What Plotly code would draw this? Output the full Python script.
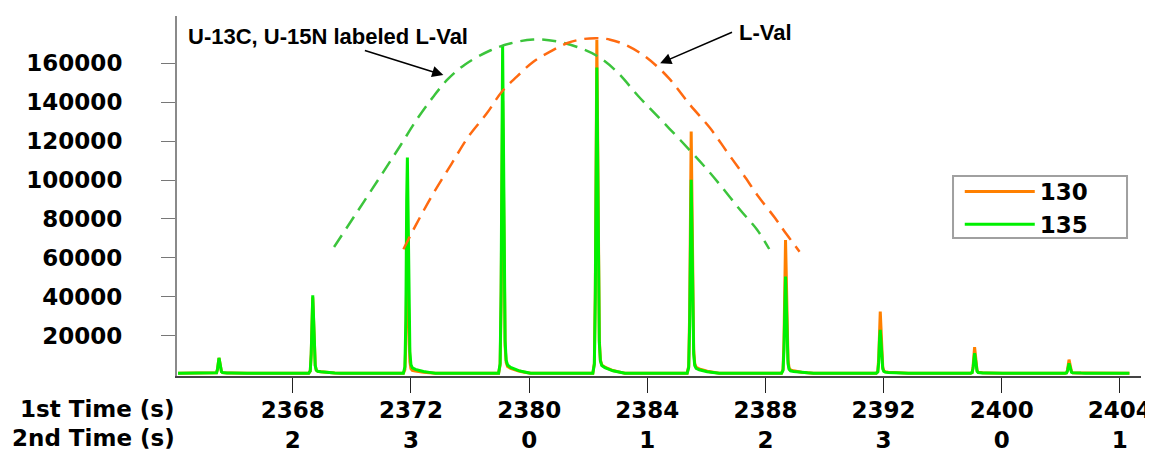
import plotly.graph_objects as go

# ---------------- data ----------------
tick_pos = [1, 2, 3, 4, 5, 6, 7, 8]
first_time_labels = ["2368", "2372", "2380", "2384", "2388", "2392", "2400", "2404"]
second_time_labels = ["2", "3", "0", "1", "2", "3", "0", "1"]
y_ticks = [20000, 40000, 60000, 80000, 100000, 120000, 140000, 160000]

# apex positions of the modulated peaks (raw time axis, s) and apex heights
peak_t = [0.375, 1.1685, 1.9695, 2.7756, 3.5732, 4.3717, 5.1702, 5.9720, 6.7705, 7.5699]
mz130_height = [7800, 39000, 60000, 140000, 171300, 124300, 68500, 31700, 13400, 7000]
mz135_height = [7900, 40100, 110900, 168500, 157200, 99400, 49700, 22300, 10300, 5100]
baseline = 700
trace_start = 0.028
trace_end = 8.081

# peak profile: time offset from apex (s), fraction of apex height
profile_dt = [-0.034, -0.021, -0.013, -0.006, 0.0, 0.006, 0.013, 0.021, 0.030,
              0.042, 0.068, 0.102, 0.136, 0.186, 0.237]
profile_frac = [0.0, 0.03, 0.25, 0.8, 1.0, 0.75, 0.35, 0.10, 0.04,
                0.025, 0.018, 0.012, 0.008, 0.004, 0.0]

# hand-drawn dashed envelopes
green_env_t = [1.349, 1.544, 1.738, 1.908, 2.052, 2.187, 2.314, 2.458, 2.670, 2.839,
               3.034, 3.237, 3.407, 3.576, 3.745, 3.923, 4.109, 4.279, 4.473, 4.617,
               4.787, 4.931, 5.032]
green_env_v = [65600, 83590, 101590, 117520, 131400, 142720, 151970, 159420, 166620, 170220,
               172280, 171250, 168420, 163790, 155570, 143230, 131400, 120610, 107760, 97470,
               84620, 74340, 64570]
orange_env_t = [1.936, 2.049, 2.190, 2.346, 2.486, 2.642, 2.769, 2.896, 3.036, 3.178,
                3.319, 3.460, 3.601, 3.686, 3.813, 3.940, 4.067, 4.194, 4.363, 4.533,
                4.674, 4.815, 4.942, 5.083, 5.153, 5.289]
orange_env_v = [64420, 77780, 93210, 108630, 122300, 134330, 145440, 153150, 160860, 166000,
                170320, 172530, 172890, 172170, 169600, 165330, 159320, 151610, 138600, 126620,
                114590, 102610, 91460, 80350, 74340, 63180]


def chromatogram(heights):
    xs, ys = [trace_start], [baseline]
    for p, h in zip(peak_t, heights):
        for dt, f in zip(profile_dt, profile_frac):
            xs.append(p + dt)
            ys.append(baseline + h * f)
    xs.append(trace_end)
    ys.append(baseline)
    return xs, ys


TICK_FONT = dict(family="DejaVu Sans", size=23, color="black", weight="bold")
NOTE_FONT = dict(family="Liberation Sans", size=22, color="black", weight="bold")

fig = go.Figure()

x130, y130 = chromatogram(mz130_height)
x135, y135 = chromatogram(mz135_height)
fig.add_trace(go.Scatter(x=x130, y=y130, mode="lines", name="130",
                         line=dict(color="#ff8000", width=3)))
fig.add_trace(go.Scatter(x=x135, y=y135, mode="lines", name="135",
                         line=dict(color="#00f000", width=3)))

fig.add_trace(go.Scatter(x=green_env_t, y=green_env_v, mode="lines", showlegend=False,
                         line=dict(color="#3cc43c", width=2.5, dash="14px,8px", shape="spline")))
fig.add_trace(go.Scatter(x=orange_env_t, y=orange_env_v, mode="lines", showlegend=False,
                         line=dict(color="#ff6a10", width=2.5, dash="14px,8px", shape="spline")))

annotations = [
    dict(x=0, y=-0.093, xref="paper", yref="paper", text="1st Time (s)",
         showarrow=False, xanchor="right", yanchor="middle", font=TICK_FONT),
    dict(x=0, y=-0.172, xref="paper", yref="paper", text="2nd Time (s)",
         showarrow=False, xanchor="right", yanchor="middle", font=TICK_FONT),
    # labels
    dict(x=0.0957, y=174070, xref="x", yref="y", text="U-13C, U-15N labeled L-Val",
         showarrow=False, xanchor="left", yanchor="middle", font=NOTE_FONT),
    dict(x=4.7587, y=175870, xref="x", yref="y", text="L-Val",
         showarrow=False, xanchor="left", yanchor="middle", font=NOTE_FONT),
    # arrows
    dict(x=2.274, y=154000, ax=1.597, ay=166850, xref="x", yref="y", axref="x", ayref="y",
         text="", showarrow=True, arrowhead=2, arrowsize=1.4, arrowwidth=1.6, arrowcolor="black"),
    dict(x=4.109, y=160040, ax=4.730, ay=176290, xref="x", yref="y", axref="x", ayref="y",
         text="", showarrow=True, arrowhead=2, arrowsize=1.4, arrowwidth=1.6, arrowcolor="black"),
]

# legend frame
shapes = [dict(type="rect", xref="paper", yref="paper", x0=0.805, x1=0.9855, y0=0.3833, y1=0.5556,
               line=dict(color="#a0a0a0", width=2), fillcolor="rgba(0,0,0,0)")]

# the page body has an 8px margin: the figure is sized to fill the rest of the window
fig.update_layout(
    width=1145, height=444,
    margin=dict(l=169, r=12, t=8, b=76, autoexpand=False),
    paper_bgcolor="white", plot_bgcolor="white",
    annotations=annotations, shapes=shapes,
    legend=dict(x=0.812, y=0.5722, xanchor="left", yanchor="top",
                borderwidth=0, bgcolor="rgba(0,0,0,0)",
                font=dict(family="DejaVu Sans", size=23, color="black", weight="bold"),
                itemwidth=70, tracegroupgap=0),
    xaxis=dict(range=[0.0195, 8.179], tickmode="array", tickvals=tick_pos,
               ticktext=[f"{a}<br>{b}" for a, b in zip(first_time_labels, second_time_labels)],
               ticks="outside", ticklen=15, tickcolor="#222", tickwidth=1.3,
               showline=True, linecolor="#444", linewidth=1.5, automargin=False,
               ticklabeloverflow="allow", ticklabelstandoff=-2,
               showgrid=False, zeroline=False, tickfont=TICK_FONT),
    yaxis=dict(range=[-720, 184350], tickmode="array", tickvals=y_ticks,
               ticktext=[str(v) for v in y_ticks],
               ticks="outside", ticklen=14, tickcolor="#777", tickwidth=1.3,
               showline=True, linecolor="#8a8a8a", linewidth=2, automargin=False,
               showgrid=False, zeroline=False, tickfont=TICK_FONT,
               ticklabelstandoff=34),
)

fig.write_html("out.html")
